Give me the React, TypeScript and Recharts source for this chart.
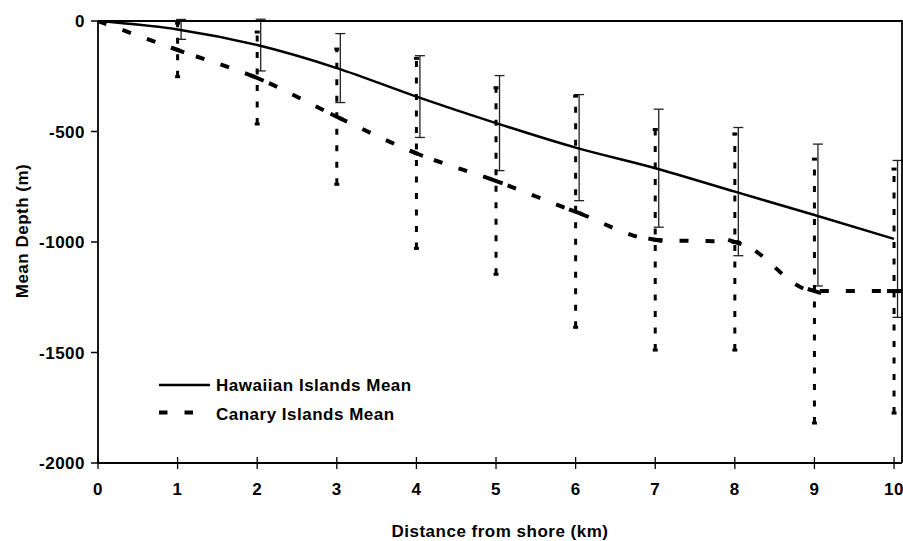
import React from 'react';
import { LineChart, Line, XAxis, YAxis, ErrorBar, Legend, Label } from 'recharts';

const distanceKm = [0, 1, 2, 3, 4, 5, 6, 7, 8, 9, 10];
const hawaiianMean = [0, -38, -109, -213, -342, -462, -573, -666, -772, -878, -986];
const hawaiianError = [0, 45, 117, 156, 185, 215, 240, 267, 290, 321, 355];
const canaryMean = [0, -131, -258, -433, -599, -724, -863, -990, -1000, -1222, -1222];
const canaryError = [0, 121, 208, 306, 430, 422, 523, 499, 489, 597, 552];
const xTicks = [0, 1, 2, 3, 4, 5, 6, 7, 8, 9, 10];
const yTicks = [0, -500, -1000, -1500, -2000];
const seriesNames = ['Hawaiian Islands Mean', 'Canary Islands Mean'];
const xTitle = 'Distance from shore (km)';
const yTitle = 'Mean Depth (m)';

const data = distanceKm.map((d, i) => ({
  distance: d,
  hawaii: hawaiianMean[i],
  hawaiiErr: hawaiianError[i],
  canary: canaryMean[i],
  canaryErr: canaryError[i],
}));

const FONT = '"Liberation Sans", Arial, Helvetica, sans-serif';
const FS = 17;
const LS = 0.5;

// plot frame (layout constants)
const PLOT = { left: 98, top: 21, right: 902, bottom: 463 };

const XTick = (props: any) => {
  const { x, y, payload } = props;
  const axisY = y - 20;
  return (
    <g>
      <line x1={x} x2={x} y1={axisY - 6} y2={axisY + 6} stroke="#000" strokeWidth={1.3} />
      <text x={x} y={y} dy="0.71em" textAnchor="middle" fill="#000" fontFamily={FONT} fontSize={FS} fontWeight="bold" letterSpacing={LS}>
        {payload.value}
      </text>
    </g>
  );
};

const YTick = (props: any) => {
  const { x, y, payload } = props;
  return (
    <text x={x} y={y} dy="0.355em" textAnchor="end" fill="#000" fontFamily={FONT} fontSize={FS} fontWeight="bold" letterSpacing={LS}>
      {payload.value}
    </text>
  );
};

const YTitle = (props: any) => {
  const vb = props.viewBox || { x: 0, y: 21, width: 98, height: 442 };
  const cx = vb.x + 22;
  const cy = vb.y + vb.height / 2 - 11;
  return (
    <text x={cx} y={cy} transform={`rotate(-90 ${cx} ${cy})`} dy="0.355em" textAnchor="middle" fill="#000" fontFamily={FONT} fontSize={FS} fontWeight="bold" letterSpacing={LS}>
      {yTitle}
    </text>
  );
};

const XTitle = (props: any) => {
  const vb = props.viewBox || { x: 98, y: 463, width: 804, height: 78 };
  const cx = vb.x + vb.width / 2;
  const cy = vb.y + 74;
  return (
    <text x={cx} y={cy} textAnchor="middle" fill="#000" fontFamily={FONT} fontSize={FS} fontWeight="bold" letterSpacing={LS}>
      {xTitle}
    </text>
  );
};

// Short thick dash centred on each Canary point, oriented along the curve
const CanaryDot = (props: any) => {
  const { cx, cy, index, points } = props;
  if (cx == null || cy == null || !index || !points) return <g key={`cd-${index}`} />;
  const prev = points[index - 1] || points[index];
  const next = points[index + 1] || points[index];
  let dx = next.x - prev.x;
  let dy = next.y - prev.y;
  const len = Math.hypot(dx, dy) || 1;
  dx /= len;
  dy /= len;
  const h = 7;
  return (
    <line
      key={`cd-${index}`}
      x1={cx - dx * h}
      y1={cy - dy * h}
      x2={cx + dx * h}
      y2={cy + dy * h}
      stroke="#000"
      strokeWidth={4}
    />
  );
};

// Legend box plus the top/right plot frame, drawn in one overlay svg
const LegendContent = () => {
  const lx = 159;
  const ly = 372;
  return (
    <svg width={903} height={541} style={{ display: 'block', overflow: 'visible' }}>
      <polyline
        points={`${PLOT.left},${PLOT.top} ${PLOT.right},${PLOT.top} ${PLOT.right},${PLOT.bottom}`}
        fill="none"
        stroke="#000"
        strokeWidth={1.8}
      />
      <g transform={`translate(${lx},${ly})`}>
        <line x1={0} x2={51} y1={13} y2={13} stroke="#000" strokeWidth={2.5} />
        <text x={57} y={18.5} fill="#000" fontFamily={FONT} fontSize={FS} fontWeight="bold" letterSpacing={LS}>
          {seriesNames[0]}
        </text>
        <line x1={0} x2={51} y1={40.5} y2={40.5} stroke="#000" strokeWidth={4} strokeDasharray="8.5 17" />
        <text x={57} y={47.5} fill="#000" fontFamily={FONT} fontSize={FS} fontWeight="bold" letterSpacing={LS}>
          {seriesNames[1]}
        </text>
      </g>
    </svg>
  );
};

export default function App() {
  return (
    <div style={{ position: 'absolute', left: 0, top: 0, width: 903, height: 541, background: '#fff' }}>
      <LineChart width={903} height={541} data={data} margin={{ top: 21, right: 1, bottom: 0, left: 0 }}>
        <XAxis
          dataKey="distance"
          type="number"
          domain={[0, 10.1]}
          ticks={xTicks}
          interval={0}
          allowDataOverflow
          height={78}
          tickSize={6}
          tickMargin={14}
          tickLine={false}
          axisLine={{ stroke: '#000', strokeWidth: 1.8 }}
          tick={<XTick />}
        >
          <Label content={<XTitle />} />
        </XAxis>
        <YAxis
          type="number"
          domain={[-2000, 0]}
          ticks={yTicks}
          interval={0}
          allowDataOverflow
          width={98}
          tickSize={7}
          tickMargin={6}
          tickLine={{ stroke: '#000', strokeWidth: 1.5 }}
          axisLine={{ stroke: '#000', strokeWidth: 1.8 }}
          tick={<YTick />}
        >
          <Label content={<YTitle />} />
        </YAxis>
        <Line
          dataKey="hawaii"
          name={seriesNames[0]}
          type="monotone"
          stroke="#000"
          strokeWidth={2.5}
          dot={false}
          activeDot={false}
          isAnimationActive={false}
        >
          <ErrorBar dataKey="hawaiiErr" direction="y" width={5} stroke="#222" strokeWidth={1.3} transform="translate(3.5,0)" />
        </Line>
        <Line
          dataKey="canary"
          name={seriesNames[1]}
          type="monotone"
          stroke="#000"
          strokeWidth={4}
          strokeDasharray="9 17"
          dot={<CanaryDot />}
          activeDot={false}
          isAnimationActive={false}
        >
          <ErrorBar dataKey="canaryErr" direction="y" width={2.5} stroke="#000" strokeWidth={3} strokeDasharray="6 10.5" />
        </Line>
        <Legend
          layout="vertical"
          align="center"
          verticalAlign="middle"
          content={<LegendContent />}
          wrapperStyle={{ position: 'absolute', left: 0, top: 0, width: 903, height: 541, pointerEvents: 'none' }}
        />
      </LineChart>
    </div>
  );
}
